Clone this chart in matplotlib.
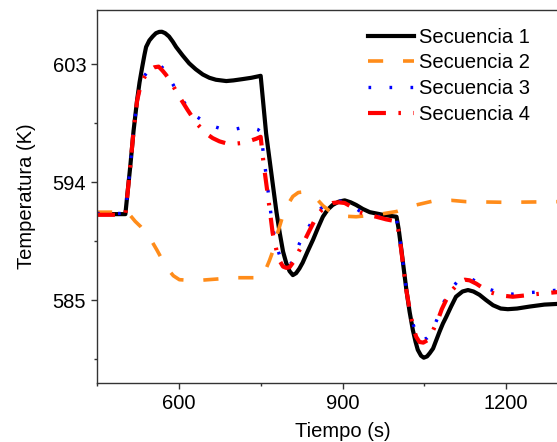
import numpy as np
import matplotlib
matplotlib.use('Agg')
import matplotlib.pyplot as plt
from matplotlib.ticker import MultipleLocator

# valores
t1 = [450, 502, 506, 511, 517, 523.5, 528, 533, 537, 540, 546, 552, 558, 564, 569, 575, 582, 589, 595,
      607, 619, 631, 644, 656, 668, 687, 700, 717, 733, 750,
      760, 772, 779, 785, 791, 797, 803, 809, 815, 821, 827, 836, 846, 855, 864, 873, 882, 893, 904,
      915, 925, 937, 950, 962, 974, 987, 999,
      1003, 1008, 1017, 1023, 1029, 1034, 1038, 1044, 1049, 1055, 1060, 1066, 1072, 1078, 1084, 1090,
      1099, 1108, 1120, 1130, 1140, 1151, 1163, 1176, 1190, 1203, 1220, 1243, 1270, 1293, 1350]
T1 = [591.55, 591.55, 593.2, 595.2, 597.9, 600.25, 601.6, 602.8, 603.7, 604.3, 604.8, 605.1, 605.35, 605.45, 605.46, 605.35, 605.1, 604.7, 604.3,
      603.65, 603.05, 602.6, 602.2, 601.95, 601.8, 601.7, 601.75, 601.85, 601.95, 602.1,
      597.7, 593.9, 591.7, 590.1, 588.7, 587.8, 587.2, 586.9, 587.05, 587.4, 587.85, 588.7, 589.6, 590.5, 591.35, 591.9, 592.25, 592.5, 592.6,
      592.45, 592.25, 591.95, 591.7, 591.6, 591.5, 591.42, 591.35,
      590.4, 588.8, 585.8, 584.1, 582.7, 581.8, 581.2, 580.75, 580.6, 580.7, 580.95, 581.3, 581.95, 582.6, 583.2, 583.7,
      584.5, 585.25, 585.65, 585.76, 585.65, 585.4, 585.0, 584.6, 584.35, 584.3, 584.35, 584.5, 584.65, 584.7, 584.75]

t2 = [450, 503, 510, 520, 530, 546, 560, 577, 590, 601, 620, 638, 670, 699, 748, 754, 760, 766, 773, 781, 790,
      800, 809, 819, 830, 841, 852, 864, 876, 888, 900, 925, 962, 999, 1030, 1066, 1100, 1127, 1200, 1293, 1350]
T2 = [591.7, 591.7, 591.5, 591.0, 590.6, 589.8, 588.8, 587.5, 586.85, 586.55, 586.5, 586.5, 586.6, 586.7, 586.7, 586.8, 587.4, 588.0, 588.8, 590.1, 591.35,
      592.3, 592.9, 593.2, 593.25, 593.05, 592.75, 592.2, 591.8, 591.5, 591.4, 591.35, 591.5, 591.75, 592.2, 592.55, 592.6, 592.5, 592.45, 592.5, 592.5]

t3 = [450, 502, 511, 517, 523.5, 530, 537, 545, 555, 565, 572, 583, 592, 601, 616, 632, 647, 660, 674.5, 687, 700, 711, 729, 745, 751,
      754, 757, 766, 772, 780, 788, 793, 799, 806, 813, 821, 830, 840, 849, 858, 870, 882, 893, 904, 917, 931, 946, 962, 980, 998.5,
      1003, 1007.7, 1016.8, 1023, 1029, 1034, 1039, 1045, 1050, 1055, 1060, 1067, 1075, 1082, 1090, 1102, 1115, 1124, 1133,
      1145, 1158, 1170, 1190, 1212, 1235, 1255, 1293, 1350]
T3 = [591.6, 591.6, 595.2, 597.9, 600.2, 601.4, 602.1, 602.55, 602.8, 602.9, 602.65, 601.9, 601.25, 600.6, 599.7, 599.0, 598.6, 598.3, 598.1, 598.0, 598.0, 598.1, 598.2, 598.0, 597.8,
      596.5, 595.5, 592.5, 590.5, 589.0, 588.0, 587.7, 587.6, 587.8, 588.4, 589.3, 590.0, 590.7, 591.35, 591.9, 592.3, 592.5, 592.55, 592.5, 592.2, 591.8, 591.6, 591.4, 591.3, 591.2,
      590.4, 588.9, 585.9, 584.3, 583.2, 582.6, 582.2, 582.0, 582.0, 582.1, 582.3, 582.9, 583.7, 584.5, 585.2, 586.0, 586.6, 586.75, 586.7,
      586.4, 586.05, 585.8, 585.55, 585.45, 585.55, 585.6, 585.75, 585.8]

t4 = [450, 502, 511, 517, 523.5, 530, 537, 545, 555, 563, 570, 576, 583, 592, 601, 616, 632, 650, 662, 674.5, 687, 699, 720, 742, 750,
      754, 757, 766, 772, 780, 786, 791, 797, 803, 810, 821, 830, 839.5, 848, 858, 870, 882, 893, 904, 917, 931, 946, 962, 980, 998.5,
      1003, 1007.7, 1016.8, 1023, 1029, 1035, 1041, 1048, 1056.5, 1065, 1075, 1082, 1090, 1102, 1115, 1124, 1133,
      1145, 1158, 1170, 1190, 1212, 1235, 1255, 1293, 1350]
T4 = [591.5, 591.5, 595.2, 597.9, 600.2, 601.4, 602.0, 602.5, 602.75, 602.8, 602.5, 602.2, 601.8, 601.15, 600.5, 599.5, 598.5, 597.7, 597.35, 597.1, 596.95, 596.9, 597.0, 597.3, 597.45,
      595.9, 594.9, 592.1, 590.1, 588.6, 587.9, 587.55, 587.45, 587.5, 587.9, 588.8, 589.5, 590.3, 591.0, 591.7, 592.2, 592.4, 592.45, 592.4, 592.1, 591.7, 591.5, 591.35, 591.15, 591.0,
      590.2, 588.8, 585.8, 584.3, 583.0, 582.2, 581.8, 581.75, 581.95, 582.6, 583.5, 584.3, 585.0, 585.8, 586.4, 586.55, 586.5,
      586.25, 585.9, 585.6, 585.35, 585.25, 585.35, 585.45, 585.6, 585.65]

labels = ['Secuencia 1', 'Secuencia 2', 'Secuencia 3', 'Secuencia 4']

plt.rcParams['font.family'] = ['Liberation Sans', 'DejaVu Sans']
plt.rcParams['font.size'] = 14.5

W, H = 557, 442
fig = plt.figure(figsize=(W / 100, H / 100), dpi=100)
ax = fig.add_axes([97 / W, 59 / H, 491 / W, 373 / H])

ax.plot(t1, T1, color='black', lw=3, label=labels[0])
ax.plot(t2, T2, color='#ff8c1a', lw=2.6, dashes=(4.2, 5.5), label=labels[1])
ax.plot(t3, T3, color='#0000ff', lw=2.4, dashes=(0.8, 5.5), label=labels[2])
ax.plot(t4, T4, color='#ff0000', lw=3, dashes=(4.3, 3, 0.6, 3), label=labels[3])

ax.set_xlim(450, 1350)
ax.set_ylim(578.67, 607.12)
ax.xaxis.set_major_locator(MultipleLocator(300))
ax.xaxis.set_minor_locator(MultipleLocator(150))
ax.yaxis.set_major_locator(MultipleLocator(9))
ax.yaxis.set_minor_locator(MultipleLocator(4.5))
ax.tick_params(which='major', direction='out', length=4.3, width=1, color='#333333')
ax.tick_params(which='minor', direction='out', length=2.2, width=1, color='#333333')
for s in ax.spines.values():
    s.set_color('#333333')
    s.set_linewidth(1)

ax.set_xlabel('Tiempo (s)', labelpad=6.5)
ax.set_ylabel('Temperatura (K)', labelpad=12)

ax.legend(loc='upper left', bbox_to_anchor=(358 / W, 1 - 17.5 / H), bbox_transform=fig.transFigure,
          frameon=False, borderpad=0, handlelength=2.3, handletextpad=0.25, labelspacing=0.34)

fig.savefig('out.png', dpi=100)
